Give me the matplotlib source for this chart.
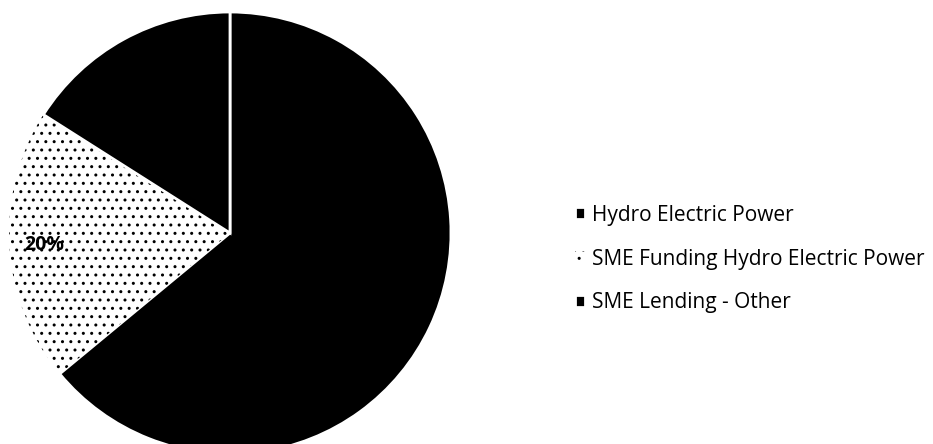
import matplotlib
matplotlib.use('Agg')
import matplotlib.pyplot as plt

labels = ['Hydro Electric Power', 'SME Funding Hydro Electric Power', 'SME Lending - Other']
values = [64, 20, 16]
colors = ['black', 'white', 'black']
hatches = [None, '..', None]

plt.rcParams['font.family'] = ['Open Sans', 'DejaVu Sans']

fig = plt.figure(figsize=(9.33, 4.44), dpi=100)
ax = fig.add_axes([9/933, -10/444, 442/933, 442/444])

wedges, texts, autotexts = ax.pie(values, colors=colors, startangle=90, counterclock=False,
                                  autopct='%1.0f%%', pctdistance=0.84,
                                  wedgeprops={'edgecolor': 'white', 'linewidth': 2},
                                  textprops={'fontsize': 14, 'fontweight': 'bold', 'color': 'black'})
for w, h in zip(wedges, hatches):
    if h:
        w.set_hatch(h)
        w.set_edgecolor('black')
        w.set_linewidth(0)
ax.set_xlim(-1, 1)
ax.set_ylim(-1, 1)
ax.set_aspect('equal')

leg = fig.legend(wedges, labels, loc='center left', bbox_to_anchor=(575/933, 1 - 259/444),
                 frameon=False, fontsize=15, handlelength=0.5, handleheight=0.5,
                 handletextpad=0.32, labelspacing=1.1, borderpad=0, borderaxespad=0)

fig.savefig('out.png', dpi=100)
